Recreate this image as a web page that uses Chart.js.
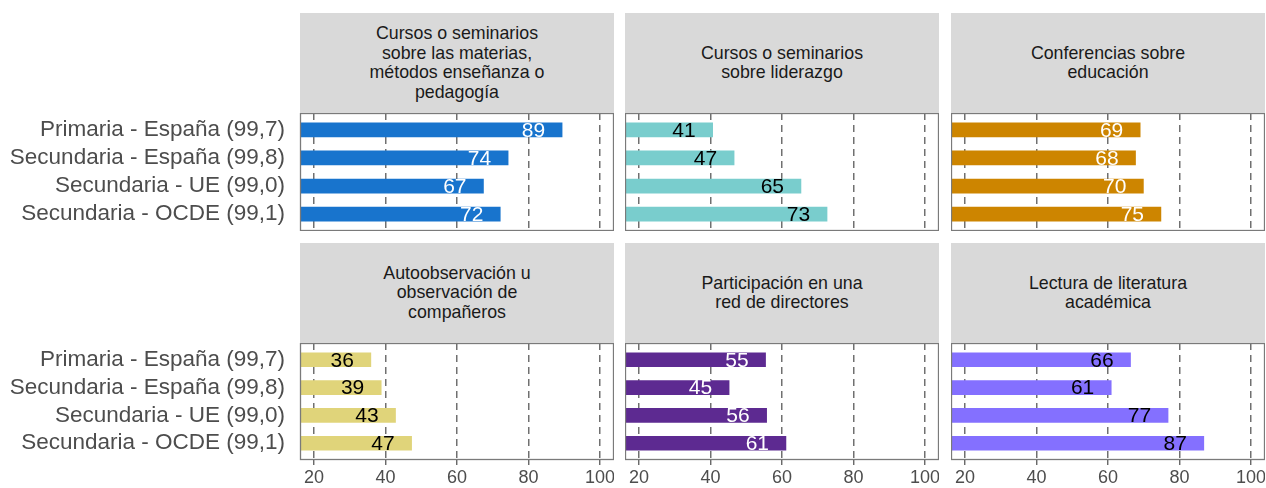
<!DOCTYPE html>
<html>
<head>
<meta charset="utf-8">
<script src="https://cdn.jsdelivr.net/npm/chart.js@4.4.1/dist/chart.umd.min.js"></script>
<style>
  html, body { margin: 0; padding: 0; background: #ffffff; }
  #wrap { position: relative; width: 1266px; height: 488px; overflow: hidden; font-family: "Liberation Sans", Arial, sans-serif; }
  canvas { position: absolute; }
  .strip { position: absolute; background: #d9d9d9; color: #1a1a1a; font-size: 17.8px; line-height: 19.5px;
           display: flex; align-items: center; justify-content: center; text-align: center; }
</style>
</head>
<body>
<div id="wrap"></div>
<script>
// ---------- data ----------
const categories = ["Primaria - España (99,7)", "Secundaria - España (99,8)", "Secundaria - UE (99,0)", "Secundaria - OCDE (99,1)"];
const xTicks = [20, 40, 60, 80, 100];

const titleCursosMaterias = ["Cursos o seminarios", "sobre las materias,", "métodos enseñanza o", "pedagogía"];
const titleCursosLiderazgo = ["Cursos o seminarios", "sobre liderazgo"];
const titleConferencias = ["Conferencias sobre", "educación"];
const titleAutoobservacion = ["Autoobservación u", "observación de", "compañeros"];
const titleRedDirectores = ["Participación en una", "red de directores"];
const titleLectura = ["Lectura de literatura", "académica"];

const valsCursosMaterias = [89.4, 74.3, 67.4, 72.1];
const valsCursosLiderazgo = [40.6, 46.6, 65.3, 72.6];
const valsConferencias = [69.0, 67.7, 69.9, 74.8];
const valsAutoobservacion = [35.9, 38.8, 42.8, 47.3];
const valsRedDirectores = [55.4, 45.2, 55.7, 61.1];
const valsLectura = [66.3, 60.9, 76.8, 86.8];

// ---------- layout / style ----------
const colX = [{left: 300, width: 314}, {left: 625, width: 314}, {left: 951, width: 314}];
const rowY = [{stripTop: 13, panelTop: 113, panelH: 118}, {stripTop: 243, panelTop: 343, panelH: 117}];

const panels = [
  {title: titleCursosMaterias, values: valsCursosMaterias, color: "#1874CD", text: "#ffffff", col: 0, row: 0},
  {title: titleCursosLiderazgo, values: valsCursosLiderazgo, color: "#79CDCD", text: "#000000", col: 1, row: 0},
  {title: titleConferencias, values: valsConferencias, color: "#CD8500", text: "#ffffff", col: 2, row: 0},
  {title: titleAutoobservacion, values: valsAutoobservacion, color: "#E0D47A", text: "#000000", col: 0, row: 1},
  {title: titleRedDirectores, values: valsRedDirectores, color: "#5D2A91", text: "#ffffff", col: 1, row: 1},
  {title: titleLectura, values: valsLectura, color: "#8470FF", text: "#000000", col: 2, row: 1}
];

const wrap = document.getElementById("wrap");

const panelBorder = {
  id: "panelBorder",
  afterDraw(chart) {
    const a = chart.chartArea, ctx = chart.ctx;
    ctx.save();
    ctx.strokeStyle = "#7a7a7a";
    ctx.lineWidth = 1.3;
    ctx.strokeRect(a.left + 0.5, a.top + 0.5, a.right - a.left - 1, a.bottom - a.top - 1);
    ctx.restore();
  }
};

const barLabels = {
  id: "barLabels",
  afterDatasetsDraw(chart) {
    const ctx = chart.ctx, xs = chart.scales.x;
    const ds = chart.data.datasets[0];
    const meta = chart.getDatasetMeta(0);
    ctx.save();
    ctx.font = '21px "Liberation Sans", Arial, sans-serif';
    ctx.fillStyle = ds.labelColor;
    ctx.textAlign = "center";
    ctx.textBaseline = "middle";
    meta.data.forEach((bar, i) => {
      const v = ds.data[i].x;
      ctx.fillText(String(Math.round(v)), xs.getPixelForValue(v - 8), bar.y + 1);
    });
    ctx.restore();
  }
};

panels.forEach(p => {
  const c = colX[p.col], r = rowY[p.row];
  const isFirstCol = p.col === 0, isBottom = p.row === 1;

  const strip = document.createElement("div");
  strip.className = "strip";
  strip.style.left = c.left + "px";
  strip.style.top = r.stripTop + "px";
  strip.style.width = c.width + "px";
  strip.style.height = (r.panelTop - r.stripTop) + "px";
  strip.innerHTML = p.title.join("<br>");
  wrap.appendChild(strip);

  const yAxisW = isFirstCol ? c.left : 0;
  const xAxisH = isBottom ? 28 : 0;
  const cv = document.createElement("canvas");
  const cw = c.width + yAxisW, ch = r.panelH + xAxisH;
  cv.width = cw; cv.height = ch;
  cv.style.width = cw + "px"; cv.style.height = ch + "px";
  cv.style.left = (c.left - yAxisW) + "px";
  cv.style.top = r.panelTop + "px";
  wrap.appendChild(cv);

  new Chart(cv, {
    type: "bar",
    data: {
      datasets: [{
        data: p.values.map((v, i) => ({x: v, y: i + 1})),
        backgroundColor: p.color,
        borderWidth: 0,
        barThickness: 14,
        labelColor: p.text
      }]
    },
    options: {
      indexAxis: "y",
      responsive: false,
      animation: false,
      devicePixelRatio: 1,
      layout: {padding: 0},
      plugins: {legend: {display: false}, tooltip: {enabled: false}, title: {display: false}},
      scales: {
        x: {
          type: "linear",
          offset: false,
          min: 16.08, max: 103.92,
          afterBuildTicks: s => { s.ticks = xTicks.map(v => ({value: v})); },
          afterFit: s => { s.height = xAxisH; s.paddingLeft = 0; s.paddingRight = 0; },
          grid: {color: "#707070", lineWidth: 1.5, drawTicks: isBottom, tickLength: 5, tickColor: "#5a5a5a", tickWidth: 1.3, offset: false},
          border: {display: false, dash: [7, 5]},
          ticks: {display: isBottom, autoSkip: false, color: "#4d4d4d", font: {family: '"Liberation Sans", Arial, sans-serif', size: 18}, padding: 2, maxRotation: 0}
        },
        y: {
          type: "linear",
          offset: false,
          reverse: true,
          min: 0.4, max: 4.6,
          display: isFirstCol,
          afterBuildTicks: s => { s.ticks = categories.map((_, i) => ({value: i + 1})); },
          afterFit: s => { s.width = yAxisW; s.paddingTop = 0; s.paddingBottom = 0; },
          grid: {display: false, drawTicks: false, offset: false},
          border: {display: false},
          ticks: {
            autoSkip: false,
            color: "#4d4d4d",
            font: {family: '"Liberation Sans", Arial, sans-serif', size: 22.5},
            padding: 15,
            callback: v => categories[Math.round(v) - 1]
          }
        }
      }
    },
    plugins: [barLabels, panelBorder]
  });
});
</script>
</body>
</html>
